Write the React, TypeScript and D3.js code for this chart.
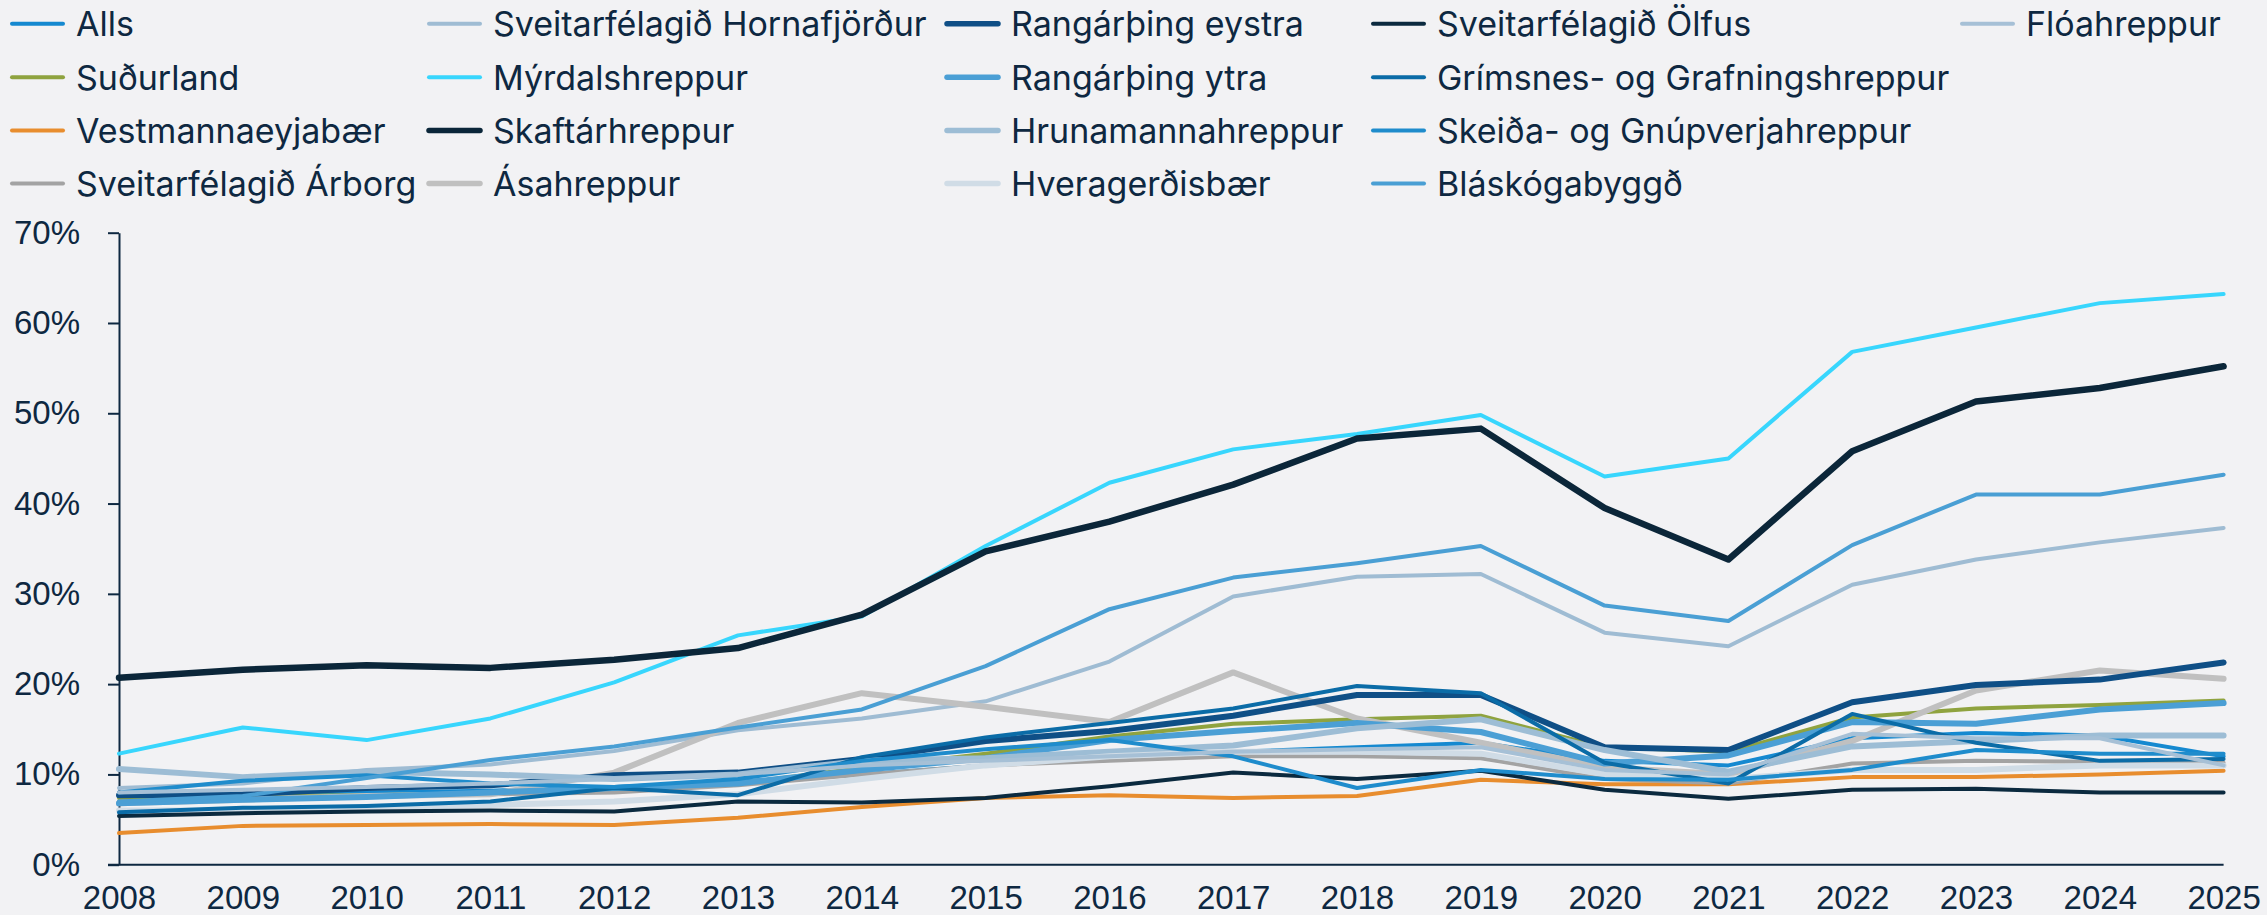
import React, { useEffect, useRef } from 'react';
import * as d3 from 'd3';

// Share (%) by municipality, 2008–2025
const years = d3.range(2008, 2026);
const yTicks = [0, 0.1, 0.2, 0.3, 0.4, 0.5, 0.6, 0.7];

const alls = [7.6, 7.8, 8.0, 8.2, 8.6, 9.2, 10.0, 11.0, 12.0, 12.5, 13.0, 13.5, 11.5, 11.0, 14.0, 14.6, 14.3, 12.0];
const sudurland = [7.4, 7.6, 7.7, 7.9, 8.3, 9.0, 10.7, 12.3, 14.2, 15.6, 16.1, 16.5, 13.0, 12.5, 16.3, 17.3, 17.7, 18.2];
const vestmannaeyjar = [3.5, 4.3, 4.4, 4.5, 4.4, 5.2, 6.4, 7.4, 7.7, 7.4, 7.6, 9.4, 8.9, 8.9, 9.7, 9.7, 10.0, 10.4];
const arborg = [7.0, 7.2, 7.5, 7.8, 8.0, 8.8, 10.0, 11.0, 11.5, 12.0, 12.0, 11.8, 9.5, 9.0, 11.2, 11.5, 11.4, 11.3];
const hornafjordur = [8.5, 9.0, 10.5, 11.1, 12.6, 14.9, 16.2, 18.1, 22.5, 29.7, 31.9, 32.2, 25.7, 24.2, 31.0, 33.8, 35.7, 37.3];
const myrdals = [12.3, 15.2, 13.8, 16.2, 20.2, 25.4, 27.5, 35.3, 42.3, 46.0, 47.7, 49.8, 43.0, 45.0, 56.8, 59.5, 62.2, 63.2];
const skaftar = [20.7, 21.6, 22.1, 21.8, 22.7, 24.0, 27.7, 34.7, 38.0, 42.1, 47.2, 48.3, 39.5, 33.8, 45.8, 51.3, 52.8, 55.2];
const asa = [6.8, 7.2, 7.6, 7.8, 10.2, 15.7, 19.0, 17.5, 15.8, 21.3, 16.2, 13.5, 10.8, 10.0, 13.7, 19.3, 21.5, 20.6];
const eystra = [7.7, 7.8, 8.5, 8.8, 9.9, 10.2, 11.7, 13.7, 14.8, 16.5, 18.8, 18.8, 13.0, 12.7, 18.0, 19.9, 20.5, 22.4];
const ytra = [6.8, 7.2, 7.5, 8.0, 8.5, 9.0, 10.5, 11.8, 13.8, 14.8, 15.7, 14.7, 11.2, 12.1, 15.8, 15.6, 17.2, 17.9];
const hrunamanna = [10.6, 9.7, 10.3, 10.0, 9.5, 10.0, 11.5, 11.8, 12.5, 13.2, 15.1, 16.1, 12.7, 10.3, 13.1, 13.7, 14.3, 14.3];
const hveragerdi = [6.0, 6.0, 6.3, 6.6, 7.0, 7.8, 9.5, 11.0, 12.0, 12.5, 12.5, 12.3, 10.0, 9.5, 10.5, 10.5, 11.0, 11.0];
const olfus = [5.4, 5.7, 5.9, 6.0, 5.9, 7.0, 6.9, 7.4, 8.7, 10.2, 9.5, 10.4, 8.3, 7.3, 8.3, 8.4, 8.0, 8.0];
const grimsnes = [5.8, 6.3, 6.5, 7.0, 8.5, 7.7, 11.9, 14.1, 15.7, 17.3, 19.8, 19.0, 11.3, 9.0, 16.7, 13.5, 11.5, 11.7];
const skeida = [8.0, 9.3, 9.9, 9.0, 8.6, 9.5, 11.5, 12.8, 13.8, 12.0, 8.5, 10.5, 9.5, 9.4, 10.5, 12.7, 12.3, 12.3];
const blaskoga = [7.0, 7.6, 9.6, 11.6, 13.1, 15.2, 17.2, 22.0, 28.3, 31.8, 33.4, 35.3, 28.7, 27.0, 35.4, 41.0, 41.0, 43.2];
const floa = [8.0, 8.3, 8.6, 9.0, 9.5, 10.0, 11.0, 11.5, 12.0, 12.5, 12.8, 13.0, 10.5, 10.0, 14.5, 14.0, 14.0, 11.0];

const seriesNames = [
  'Alls', 'Suðurland', 'Vestmannaeyjabær', 'Sveitarfélagið Árborg',
  'Sveitarfélagið Hornafjörður', 'Mýrdalshreppur', 'Skaftárhreppur', 'Ásahreppur',
  'Rangárþing eystra', 'Rangárþing ytra', 'Hrunamannahreppur', 'Hveragerðisbær',
  'Sveitarfélagið Ölfus', 'Grímsnes- og Grafningshreppur', 'Skeiða- og Gnúpverjahreppur', 'Bláskógabyggð',
  'Flóahreppur'
];
const seriesValues = [
  alls, sudurland, vestmannaeyjar, arborg,
  hornafjordur, myrdals, skaftar, asa,
  eystra, ytra, hrunamanna, hveragerdi,
  olfus, grimsnes, skeida, blaskoga,
  floa
];
const seriesColors = [
  '#1589d0', '#8fa33f', '#e88d2e', '#a3a3a3',
  '#9fbcd3', '#38d6fd', '#0b2639', '#c0c0c0',
  '#0f4f86', '#4b9fd5', '#9dbdd5', '#d0dce6',
  '#0b2a3f', '#0b6ca7', '#1f8ccc', '#4a9fd4',
  '#a6c0d6'
];
const seriesWidths = [
  4, 4, 4, 4,
  4, 4, 6.5, 6,
  6, 6, 6, 6,
  4, 4, 4, 4,
  4
];

const legendCols = [12, 429, 947, 1373, 1962];
const legendRows = [23.7, 77.3, 130.5, 183.5];

const TEXT = '#0e2841';

export default function App() {
  const ref = useRef(null);

  useEffect(() => {
    const node = ref.current;
    if (!node) return;
    const svg = d3.select(node);
    svg.selectAll('*').remove();

    const width = 2267, height = 915;
    svg.append('rect').attr('width', width).attr('height', height).attr('fill', '#f2f2f4');

    const x = d3.scaleLinear().domain([2008, 2025]).range([119, 2223.6]);
    const y = d3.scaleLinear().domain([0, 0.7]).range([864.7, 232.7]);

    // y axis
    const yAxis = d3.axisLeft(y).tickValues(yTicks).tickFormat(d3.format('.0%')).tickSize(11).tickSizeOuter(0).tickPadding(28);
    const gy = svg.append('g').attr('transform', `translate(${x(2008)},0)`).call(yAxis);
    gy.selectAll('line').attr('stroke', TEXT).attr('stroke-width', 2);
    gy.select('.domain').attr('stroke', TEXT).attr('stroke-width', 2);
    gy.selectAll('text').attr('fill', TEXT).attr('font-size', 33).attr('font-family', '"Liberation Sans", Arial, sans-serif');

    // lines
    const line = d3.line().x((d, i) => x(years[i])).y(d => y(d / 100));
    seriesValues.forEach((vals, i) => {
      svg.append('path').datum(vals)
        .attr('fill', 'none')
        .attr('stroke', seriesColors[i])
        .attr('stroke-width', seriesWidths[i])
        .attr('stroke-linejoin', 'round')
        .attr('stroke-linecap', 'round')
        .attr('d', line);
    });

    // x axis
    svg.append('line').attr('x1', 108).attr('x2', x(2025)).attr('y1', y(0)).attr('y2', y(0))
      .attr('stroke', TEXT).attr('stroke-width', 2);
    const xAxis = d3.axisBottom(x).tickValues(years).tickFormat(d3.format('d')).tickSize(0).tickPadding(21);
    const gx = svg.append('g').attr('transform', `translate(0,${y(0)})`).call(xAxis);
    gx.select('.domain').remove();
    gx.selectAll('text').attr('fill', TEXT).attr('font-size', 33).attr('font-family', '"Liberation Sans", Arial, sans-serif');

    // legend (column-major)
    seriesNames.forEach((name, i) => {
      const cx = legendCols[Math.floor(i / 4)];
      const cy = legendRows[i % 4];
      svg.append('line').attr('x1', cx).attr('x2', cx + 51).attr('y1', cy).attr('y2', cy)
        .attr('stroke', seriesColors[i]).attr('stroke-width', Math.min(seriesWidths[i], 5.5)).attr('stroke-linecap', 'round');
      svg.append('text').attr('x', cx + 64).attr('y', cy).attr('dy', '0.36em')
        .attr('fill', TEXT).attr('font-size', 34).attr('font-family', 'Inter, sans-serif')
        .text(name);
    });
  }, []);

  return (
    <svg ref={ref} width={2267} height={915}
      style={{ position: 'absolute', left: 0, top: 0, display: 'block' }} />
  );
}
